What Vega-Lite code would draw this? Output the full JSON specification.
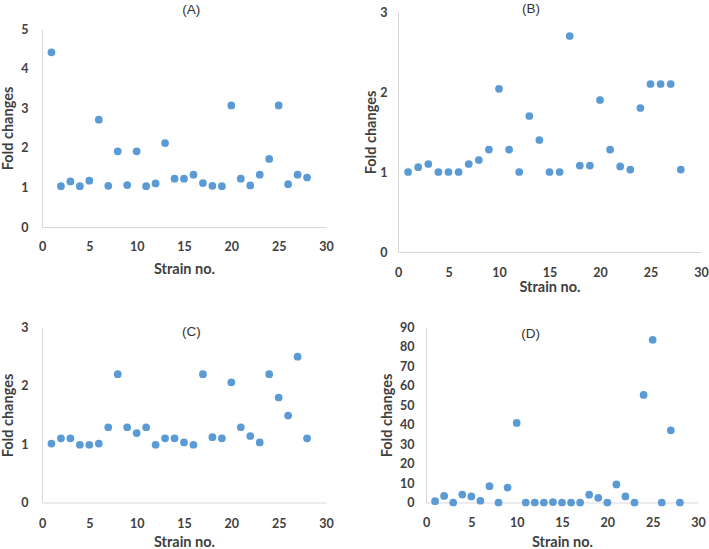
{
  "$schema": "https://vega.github.io/schema/vega-lite/v6.json",
  "padding": {"top": 1, "left": 0, "right": 0, "bottom": 0},
  "autosize": {"type": "pad"},
  "config": {
    "view": {"stroke": null},
    "axis": {"domainColor": "#D9D9D9", "domainWidth": 1, "ticks": false, "tickSize": 0, "grid": false, "labelFont": "Lato", "labelFontWeight": "bold", "labelFontSize": 12.5, "labelColor": "#404040", "titleFont": "Lato", "titleFontWeight": "bold", "titleFontSize": 14.5, "titleColor": "#404040", "labelFlush": false, "labelOverlap": false},
    "title": {"font": "Liberation Sans", "fontSize": 13.5, "fontWeight": "normal", "color": "#333333", "anchor": "middle", "baseline": "bottom", "frame": "group"}
  },
  "datasets": {
    "A": [
      {"strain": 1, "fold": 4.41}, {"strain": 2, "fold": 1.03}, {"strain": 3, "fold": 1.15}, {"strain": 4, "fold": 1.03}, {"strain": 5, "fold": 1.17}, {"strain": 6, "fold": 2.71}, {"strain": 7, "fold": 1.04}, {"strain": 8, "fold": 1.91}, {"strain": 9, "fold": 1.06}, {"strain": 10, "fold": 1.91}, {"strain": 11, "fold": 1.03}, {"strain": 12, "fold": 1.1}, {"strain": 13, "fold": 2.12}, {"strain": 14, "fold": 1.22}, {"strain": 15, "fold": 1.22}, {"strain": 16, "fold": 1.32}, {"strain": 17, "fold": 1.11}, {"strain": 18, "fold": 1.04}, {"strain": 19, "fold": 1.03}, {"strain": 20, "fold": 3.07}, {"strain": 21, "fold": 1.22}, {"strain": 22, "fold": 1.05}, {"strain": 23, "fold": 1.32}, {"strain": 24, "fold": 1.72}, {"strain": 25, "fold": 3.07}, {"strain": 26, "fold": 1.08}, {"strain": 27, "fold": 1.32}, {"strain": 28, "fold": 1.25}
    ],
    "B": [
      {"strain": 1, "fold": 1.0}, {"strain": 2, "fold": 1.06}, {"strain": 3, "fold": 1.1}, {"strain": 4, "fold": 1.0}, {"strain": 5, "fold": 1.0}, {"strain": 6, "fold": 1.0}, {"strain": 7, "fold": 1.1}, {"strain": 8, "fold": 1.15}, {"strain": 9, "fold": 1.28}, {"strain": 10, "fold": 2.04}, {"strain": 11, "fold": 1.28}, {"strain": 12, "fold": 1.0}, {"strain": 13, "fold": 1.7}, {"strain": 14, "fold": 1.4}, {"strain": 15, "fold": 1.0}, {"strain": 16, "fold": 1.0}, {"strain": 17, "fold": 2.7}, {"strain": 18, "fold": 1.08}, {"strain": 19, "fold": 1.08}, {"strain": 20, "fold": 1.9}, {"strain": 21, "fold": 1.28}, {"strain": 22, "fold": 1.07}, {"strain": 23, "fold": 1.03}, {"strain": 24, "fold": 1.8}, {"strain": 25, "fold": 2.1}, {"strain": 26, "fold": 2.1}, {"strain": 27, "fold": 2.1}, {"strain": 28, "fold": 1.03}
    ],
    "C": [
      {"strain": 1, "fold": 1.01}, {"strain": 2, "fold": 1.1}, {"strain": 3, "fold": 1.1}, {"strain": 4, "fold": 0.99}, {"strain": 5, "fold": 0.99}, {"strain": 6, "fold": 1.01}, {"strain": 7, "fold": 1.29}, {"strain": 8, "fold": 2.2}, {"strain": 9, "fold": 1.29}, {"strain": 10, "fold": 1.19}, {"strain": 11, "fold": 1.29}, {"strain": 12, "fold": 0.99}, {"strain": 13, "fold": 1.1}, {"strain": 14, "fold": 1.1}, {"strain": 15, "fold": 1.03}, {"strain": 16, "fold": 0.99}, {"strain": 17, "fold": 2.2}, {"strain": 18, "fold": 1.12}, {"strain": 19, "fold": 1.1}, {"strain": 20, "fold": 2.06}, {"strain": 21, "fold": 1.29}, {"strain": 22, "fold": 1.14}, {"strain": 23, "fold": 1.03}, {"strain": 24, "fold": 2.2}, {"strain": 25, "fold": 1.8}, {"strain": 26, "fold": 1.49}, {"strain": 27, "fold": 2.5}, {"strain": 28, "fold": 1.1}
    ],
    "D": [
      {"strain": 1, "fold": 0.7}, {"strain": 2, "fold": 3.4}, {"strain": 3, "fold": 0}, {"strain": 4, "fold": 4.1}, {"strain": 5, "fold": 3.1}, {"strain": 6, "fold": 0.9}, {"strain": 7, "fold": 8.4}, {"strain": 8, "fold": 0}, {"strain": 9, "fold": 7.7}, {"strain": 10, "fold": 40.9}, {"strain": 11, "fold": 0}, {"strain": 12, "fold": 0}, {"strain": 13, "fold": 0}, {"strain": 14, "fold": 0.2}, {"strain": 15, "fold": 0}, {"strain": 16, "fold": 0}, {"strain": 17, "fold": 0}, {"strain": 18, "fold": 4.0}, {"strain": 19, "fold": 2.4}, {"strain": 20, "fold": 0}, {"strain": 21, "fold": 9.3}, {"strain": 22, "fold": 3.1}, {"strain": 23, "fold": 0}, {"strain": 24, "fold": 55.3}, {"strain": 25, "fold": 83.7}, {"strain": 26, "fold": 0}, {"strain": 27, "fold": 37.1}, {"strain": 28, "fold": 0}
    ]
  },
  "spacing": 27.5,
  "vconcat": [
    {
      "spacing": 29,
      "hconcat": [
        {
          "data": {"name": "A"},
          "width": 284,
          "height": 215,
          "title": {"text": "(A)", "dx": 7.3, "offset": -4.4},
          "mark": {"type": "circle", "size": 60, "color": "#5B9BD5", "opacity": 1},
          "encoding": {
            "x": {"field": "strain", "type": "quantitative", "scale": {"domain": [0, 30], "nice": false}, "axis": {"values": [0, 5, 10, 15, 20, 25, 30], "title": "Strain no.", "labelPadding": 13.5, "titlePadding": 9}},
            "y": {"field": "fold", "type": "quantitative", "scale": {"domain": [0, 5], "nice": false, "range": [215, 17]}, "axis": {"values": [0, 1, 2, 3, 4, 5], "title": "Fold changes", "labelPadding": 14, "titlePadding": 5}}
          }
        },
        {
          "data": {"name": "B"},
          "width": 303,
          "height": 240,
          "title": {"text": "(B)", "dx": -18.5, "offset": -9.3},
          "mark": {"type": "circle", "size": 60, "color": "#5B9BD5", "opacity": 1},
          "encoding": {
            "x": {"field": "strain", "type": "quantitative", "scale": {"domain": [0, 30], "nice": false}, "axis": {"values": [0, 5, 10, 15, 20, 25, 30], "title": "Strain no.", "labelPadding": 14.5, "titlePadding": 1.5}},
            "y": {"field": "fold", "type": "quantitative", "scale": {"domain": [0, 3], "nice": false}, "axis": {"values": [0, 1, 2, 3], "title": "Fold changes", "labelPadding": 11, "titlePadding": 1}}
          }
        }
      ]
    },
    {
      "spacing": 45,
      "hconcat": [
        {
          "data": {"name": "C"},
          "width": 284,
          "height": 175,
          "title": {"text": "(C)", "dx": 7.3, "offset": -17.25},
          "mark": {"type": "circle", "size": 60, "color": "#5B9BD5", "opacity": 1},
          "encoding": {
            "x": {"field": "strain", "type": "quantitative", "scale": {"domain": [0, 30], "nice": false}, "axis": {"values": [0, 5, 10, 15, 20, 25, 30], "title": "Strain no.", "labelPadding": 14.5, "titlePadding": 6}},
            "y": {"field": "fold", "type": "quantitative", "scale": {"domain": [0, 3], "nice": false}, "axis": {"values": [0, 1, 2, 3], "title": "Fold changes", "labelPadding": 14, "titlePadding": 5}}
          }
        },
        {
          "data": {"name": "D"},
          "width": 272,
          "height": 175,
          "title": {"text": "(D)", "dx": -31.3, "offset": -18.5},
          "mark": {"type": "circle", "size": 60, "color": "#5B9BD5", "opacity": 1},
          "encoding": {
            "x": {"field": "strain", "type": "quantitative", "scale": {"domain": [0, 30], "nice": false}, "axis": {"values": [0, 5, 10, 15, 20, 25, 30], "title": "Strain no.", "labelPadding": 13.5, "titlePadding": 7}},
            "y": {"field": "fold", "type": "quantitative", "scale": {"domain": [0, 90], "nice": false}, "axis": {"values": [0, 10, 20, 30, 40, 50, 60, 70, 80, 90], "title": "Fold changes", "labelPadding": 12, "titlePadding": 5}}
          }
        }
      ]
    }
  ]
}
